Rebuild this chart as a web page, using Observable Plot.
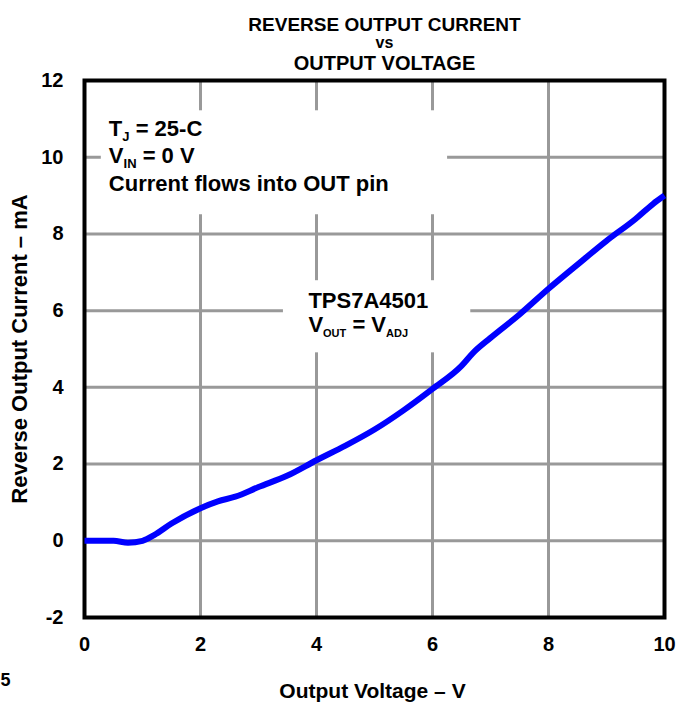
<!DOCTYPE html>
<html>
<head>
<meta charset="utf-8">
<script src="https://cdn.jsdelivr.net/npm/d3@7"></script>
<script src="https://cdn.jsdelivr.net/npm/@observablehq/plot@0.6"></script>
<style>
  html, body { margin: 0; padding: 0; background: #fff; }
  #chart { width: 692px; height: 704px; }
</style>
</head>
<body>
<div id="chart"></div>
<script>
// ---- data ----
const voltage = [0, 0.5, 0.75, 1.0, 1.2, 1.5, 2.0, 2.3, 2.6, 3.0, 3.5, 4.0, 4.5, 5.0, 5.5, 6.0, 6.5, 6.7, 7.0, 7.5, 8.0, 8.5, 9.0, 9.5, 9.8, 10.0];
const current = [0, 0, -0.05, 0.0, 0.15, 0.45, 0.85, 1.03, 1.15, 1.4, 1.7, 2.1, 2.48, 2.9, 3.4, 3.96, 4.56, 4.9, 5.29, 5.9, 6.57, 7.2, 7.82, 8.39, 8.78, 9.0];
const xTicks = [0, 2, 4, 6, 8, 10];
const yTicks = [-2, 0, 2, 4, 6, 8, 10, 12];
const xGrid = [2, 4, 6, 8];
const yGrid = [0, 2, 4, 6, 8, 10];
const titleLines = ["REVERSE OUTPUT CURRENT", "vs", "OUTPUT VOLTAGE"];
const xLabel = "Output Voltage \u2013 V";
const yLabel = "Reverse Output Current \u2013 mA";
const noteLines = ["T_{J} = 25-C", "V_{IN} = 0 V", "Current flows into OUT pin"];
const deviceLines = ["TPS7A4501", "V_{OUT} = V_{ADJ}"];
const strayLabel = "5";
// label boxes that interrupt the grid (x1, x2, y1, y2 in data units)
const boxes = [
  {x1: 0.29, x2: 6.26, y1: 8.5, y2: 11.21},
  {x1: 3.43, x2: 6.66, y1: 4.9, y2: 6.78}
];

const data = voltage.map((v, i) => ({v, c: current[i]}));
const FONT = "'Liberation Sans', Arial, Helvetica, sans-serif";

const chart = Plot.plot({
  width: 692,
  height: 704,
  marginLeft: 84,
  marginRight: 28,
  marginTop: 80,
  marginBottom: 87,
  style: {fontFamily: FONT, fontWeight: "bold", background: "#fff", color: "#000", overflow: "visible"},
  x: {domain: [0, 10]},
  y: {domain: [-2, 12]},
  marks: [
    Plot.ruleX(xGrid, {x: d => d, stroke: "#999999", strokeWidth: 3}),
    Plot.ruleY(yGrid, {y: d => d, stroke: "#999999", strokeWidth: 3}),
    Plot.rect(boxes, {x1: "x1", x2: "x2", y1: "y1", y2: "y2", fill: "#ffffff"}),
    Plot.frame({stroke: "#000", strokeWidth: 4}),
    Plot.line(data, {x: "v", y: "c", stroke: "#0000ff", strokeWidth: 6, curve: "monotone-x", strokeLinejoin: "round", strokeLinecap: "butt"}),
    Plot.axisX({ticks: xTicks, tickSize: 0, tickPadding: 19, fontSize: 20, fontWeight: "bold", label: null, tickFormat: d => String(d)}),
    Plot.axisY({ticks: yTicks, tickSize: 0, tickPadding: 21, fontSize: 20, fontWeight: "bold", label: null, tickFormat: d => String(d)}),
    // annotations
    Plot.text([noteLines[0]], {x: 0.42, y: 10.56, text: d => d, textAnchor: "start", lineAnchor: "bottom", fontSize: 22, fontWeight: "bold"}),
    Plot.text([noteLines[1]], {x: 0.42, y: 9.85, text: d => d, textAnchor: "start", lineAnchor: "bottom", fontSize: 22, fontWeight: "bold"}),
    Plot.text([noteLines[2]], {x: 0.42, y: 9.12, text: d => d, textAnchor: "start", lineAnchor: "bottom", fontSize: 22, fontWeight: "bold"}),
    Plot.text([deviceLines[0]], {x: 3.86, y: 6.08, text: d => d, textAnchor: "start", lineAnchor: "bottom", fontSize: 22, fontWeight: "bold"}),
    Plot.text([deviceLines[1]], {x: 3.86, y: 5.45, text: d => d, textAnchor: "start", lineAnchor: "bottom", fontSize: 22, fontWeight: "bold"}),
    // titles
    Plot.text([titleLines[0]], {frameAnchor: "top", text: d => d, dx: 10, dy: -63, fontSize: 19, fontWeight: "bold"}),
    Plot.text([titleLines[1]], {frameAnchor: "top", text: d => d, dx: 10, dy: -44, fontSize: 16, fontWeight: "bold"}),
    Plot.text([titleLines[2]], {frameAnchor: "top", text: d => d, dx: 10, dy: -25, fontSize: 20, fontWeight: "bold"}),
    // axis labels
    Plot.text([xLabel], {frameAnchor: "bottom", text: d => d, dx: -2, dy: 80, fontSize: 21, fontWeight: "bold"}),
    Plot.text([yLabel], {frameAnchor: "left", text: d => d, textAnchor: "middle", dx: -65, rotate: -90, fontSize: 22, fontWeight: "bold"}),
    // stray label at the bottom-left edge
    Plot.text([strayLabel], {frameAnchor: "bottom-left", text: d => d, textAnchor: "start", dx: -84, dy: 68, fontSize: 18, fontWeight: "bold"})
  ]
});

// turn "_{...}" markup into subscript tspans
const subSizes = {"J": 13, "IN": 13, "OUT": 11, "ADJ": 11};
chart.querySelectorAll("text").forEach(t => {
  const s = t.textContent;
  if (!s.includes("_{")) return;
  const parts = s.split(/(_\{[^}]*\})/).filter(p => p.length);
  while (t.firstChild) t.removeChild(t.firstChild);
  let shifted = false;
  parts.forEach(p => {
    const ts = document.createElementNS("http://www.w3.org/2000/svg", "tspan");
    if (p.startsWith("_{")) {
      const sub = p.slice(2, -1);
      ts.textContent = sub;
      ts.setAttribute("font-size", subSizes[sub] || 12);
      ts.setAttribute("dy", shifted ? 0 : 5);
      shifted = true;
    } else {
      ts.textContent = p;
      if (shifted) { ts.setAttribute("dy", -5); shifted = false; }
    }
    t.appendChild(ts);
  });
});

document.getElementById("chart").appendChild(chart);
</script>
</body>
</html>
